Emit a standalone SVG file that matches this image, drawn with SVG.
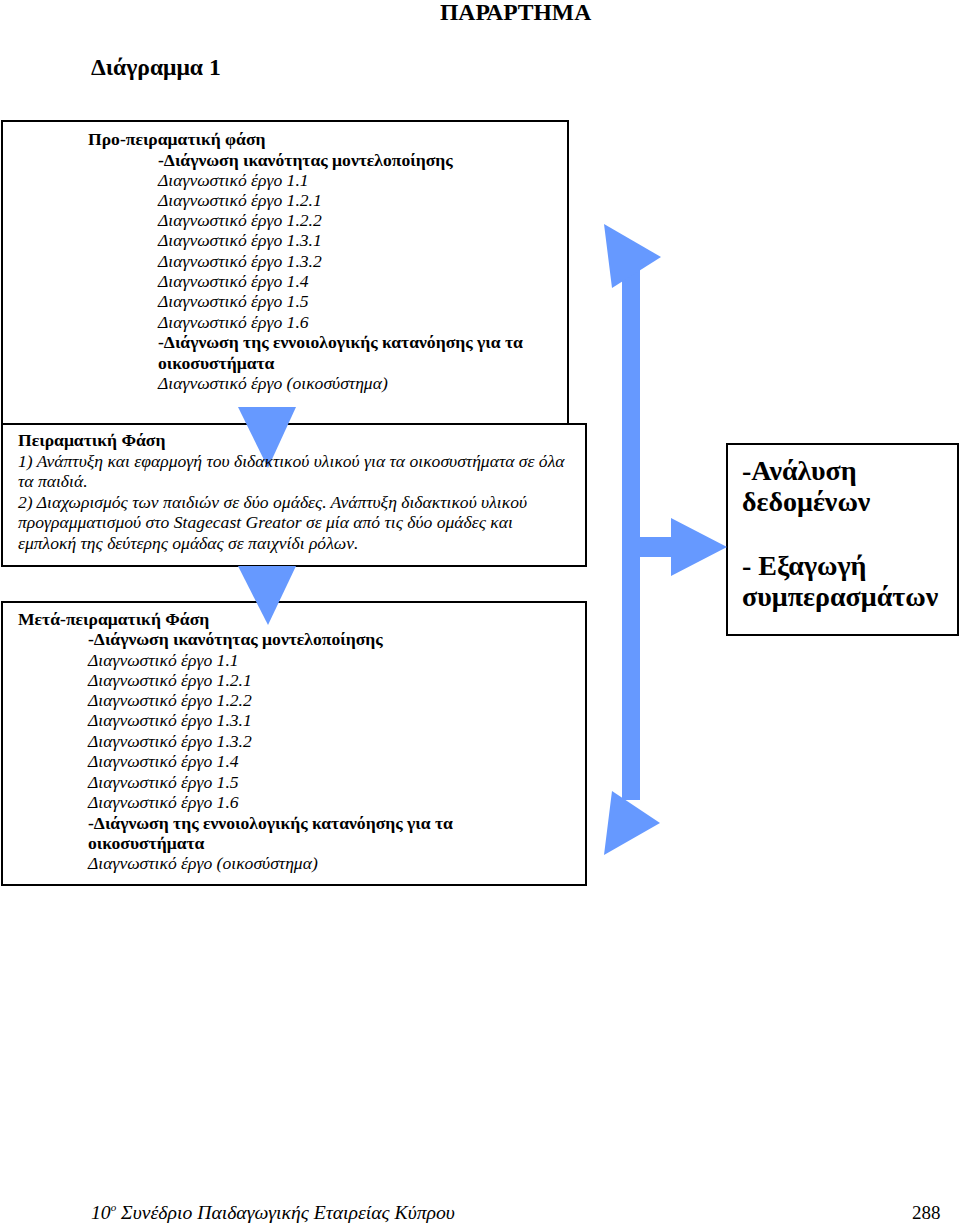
<svg xmlns="http://www.w3.org/2000/svg" width="960" height="1225" viewBox="0 0 960 1225">
<defs>
<style>
text { font-family: "Liberation Serif", "Times New Roman", serif; fill: #000; }
.b { font-weight: bold; font-size: 17.6px; }
.i { font-style: italic; font-size: 17.6px; }
.box { fill: none; stroke: #000; stroke-width: 2; }
.arrow { fill: #6699FF; stroke: none; }
.big { font-weight: bold; font-size: 28px; }
.title { font-weight: bold; font-size: 23.6px; }
.foot { font-style: italic; font-size: 19.7px; }
</style>
</defs>
<rect width="960" height="1225" fill="#fff"/>
<text class="title" x="440" y="20">ΠΑΡΑΡΤΗΜΑ</text>
<text class="title" x="91" y="75">Διάγραμμα 1</text>

<g id="node-pre">
<path class="box" d="M2,424 V121 H568 V424"/>
<text class="b" x="88" y="145">Προ-πειραματική φάση</text>
<text class="b" x="158" y="166">-Διάγνωση ικανότητας μοντελοποίησης</text>
<text class="i" x="158" y="186">Διαγνωστικό έργο 1.1</text>
<text class="i" x="158" y="206">Διαγνωστικό έργο 1.2.1</text>
<text class="i" x="158" y="226">Διαγνωστικό έργο 1.2.2</text>
<text class="i" x="158" y="246">Διαγνωστικό έργο 1.3.1</text>
<text class="i" x="158" y="267">Διαγνωστικό έργο 1.3.2</text>
<text class="i" x="158" y="287">Διαγνωστικό έργο 1.4</text>
<text class="i" x="158" y="307">Διαγνωστικό έργο 1.5</text>
<text class="i" x="158" y="328">Διαγνωστικό έργο 1.6</text>
<text class="b" x="158" y="348">-Διάγνωση της εννοιολογικής κατανόησης για τα</text>
<text class="b" x="158" y="369">οικοσυστήματα</text>
<text class="i" x="158" y="389">Διαγνωστικό έργο (οικοσύστημα)</text>
</g>

<g id="node-exp-box">
<rect class="box" x="2" y="424" width="584" height="142"/>
</g>
<g id="node-post-box">
<rect class="box" x="2" y="602" width="584" height="283"/>
</g>
<g id="node-analysis">
<rect class="box" x="727" y="444" width="231" height="191"/>
<text class="big" x="742" y="480">-Ανάλυση</text>
<text class="big" x="742" y="511">δεδομένων</text>
<text class="big" x="742" y="575">- Εξαγωγή</text>
<text class="big" x="742" y="606">συμπερασμάτων</text>
</g>

<g id="connectors">
<polygon class="arrow" points="238,407 296,407 268,468"/>
<polygon class="arrow" points="238,566 296,566 268,625"/>
<polygon class="arrow" points="622,266 640,266 640,537 671,537 671,518 727,547 671,576 671,557 640,557 640,800 622,800"/>
<polygon class="arrow" points="604,224 661,257 612,288"/>
<polygon class="arrow" points="612,791 660,823 604,855"/>
</g>

<g id="node-exp-text">
<text class="b" x="18" y="446">Πειραματική Φάση</text>
<text class="i" x="18" y="467">1) Ανάπτυξη και εφαρμογή του διδακτικού υλικού για τα οικοσυστήματα σε όλα</text>
<text class="i" x="18" y="487">τα παιδιά.</text>
<text class="i" x="18" y="508">2) Διαχωρισμός των παιδιών σε δύο ομάδες. Ανάπτυξη διδακτικού υλικού</text>
<text class="i" x="18" y="528">προγραμματισμού στο Stagecast Greator σε μία από τις δύο ομάδες και</text>
<text class="i" x="18" y="549">εμπλοκή της δεύτερης ομάδας σε παιχνίδι ρόλων.</text>
</g>

<g id="node-post-text">
<text class="b" x="18" y="625">Μετά-πειραματική Φάση</text>
<text class="b" x="88" y="645">-Διάγνωση ικανότητας μοντελοποίησης</text>
<text class="i" x="88" y="666">Διαγνωστικό έργο 1.1</text>
<text class="i" x="88" y="686">Διαγνωστικό έργο 1.2.1</text>
<text class="i" x="88" y="706">Διαγνωστικό έργο 1.2.2</text>
<text class="i" x="88" y="726">Διαγνωστικό έργο 1.3.1</text>
<text class="i" x="88" y="747">Διαγνωστικό έργο 1.3.2</text>
<text class="i" x="88" y="767">Διαγνωστικό έργο 1.4</text>
<text class="i" x="88" y="788">Διαγνωστικό έργο 1.5</text>
<text class="i" x="88" y="808">Διαγνωστικό έργο 1.6</text>
<text class="b" x="88" y="829">-Διάγνωση της εννοιολογικής κατανόησης για τα</text>
<text class="b" x="88" y="849">οικοσυστήματα</text>
<text class="i" x="88" y="869">Διαγνωστικό έργο (οικοσύστημα)</text>
</g>

<text class="foot" x="91" y="1219">10<tspan font-size="11" dy="-8">ο</tspan><tspan dy="8"> Συνέδριο Παιδαγωγικής Εταιρείας Κύπρου</tspan></text>
<text x="912" y="1219" font-size="19">288</text>
</svg>
